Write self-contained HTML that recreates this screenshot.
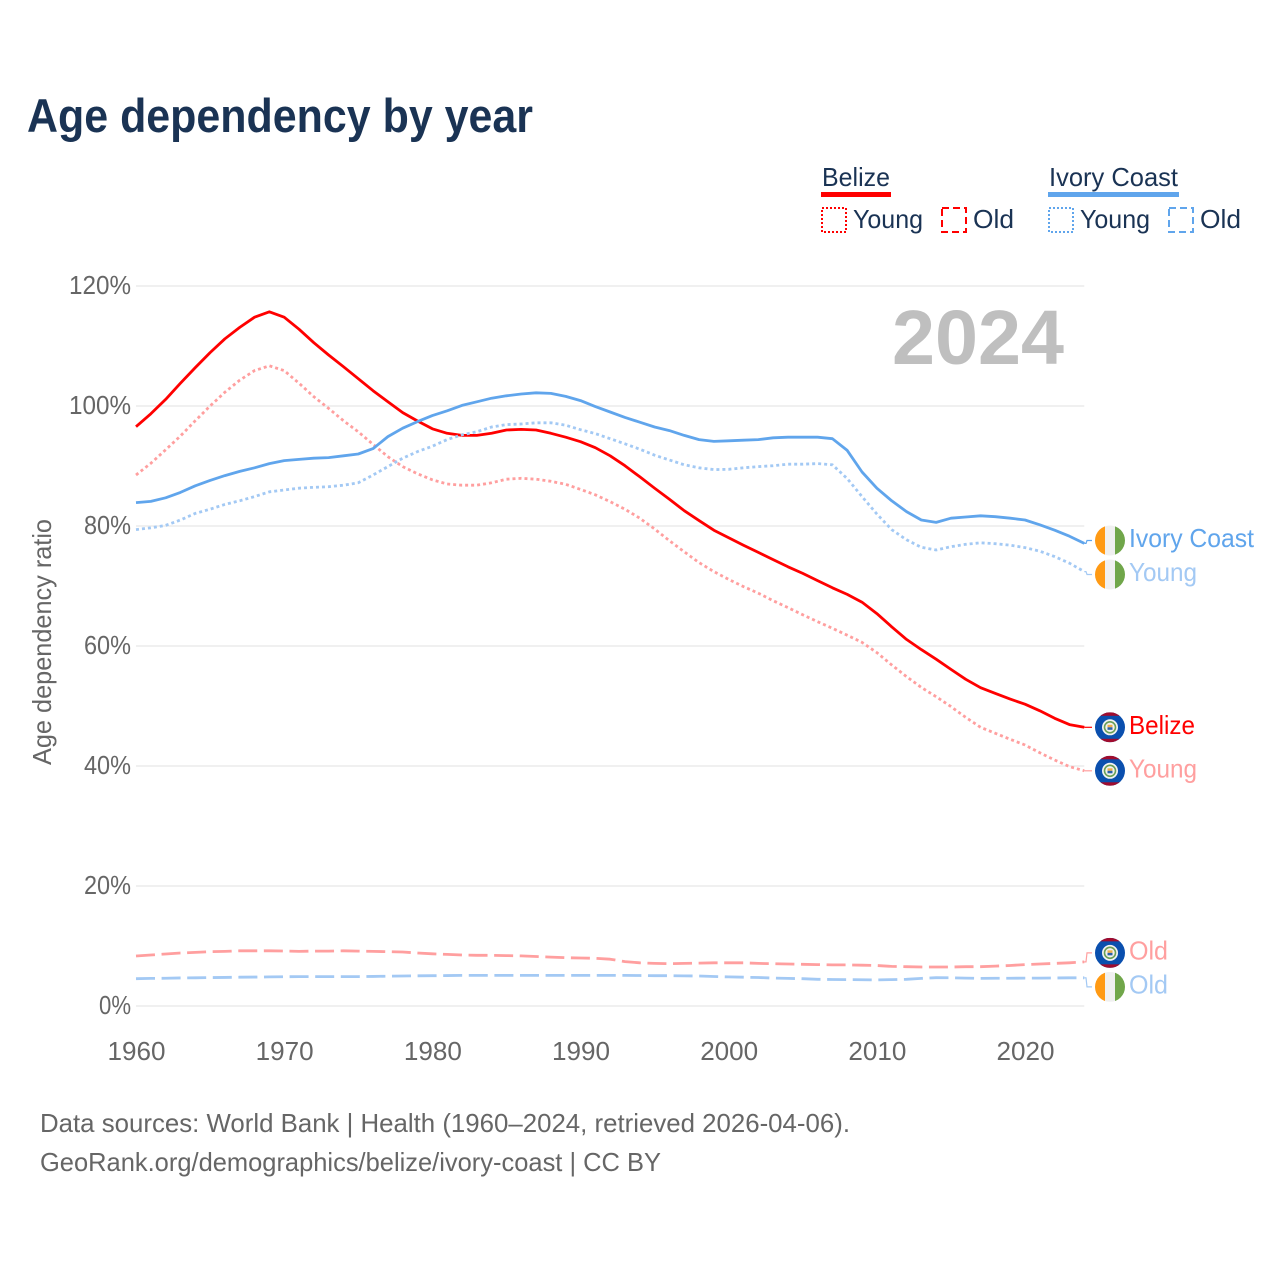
<!DOCTYPE html>
<html lang="en">
<head>
<meta charset="utf-8">
<title>Age dependency by year</title>
<style>
html,body{margin:0;padding:0;background:#fff;width:1280px;height:1280px;overflow:hidden}
svg{display:block;font-family:"Liberation Sans",sans-serif}
</style>
</head>
<body>
<svg id="chart" width="1280" height="1280" viewBox="0 0 1280 1280" xmlns="http://www.w3.org/2000/svg">
  <text x="27" y="132" font-size="47" font-weight="700" fill="#1a3354" textLength="506" lengthAdjust="spacingAndGlyphs">Age dependency by year</text>

  <g font-size="26" fill="#1a3354">
    <g>
      <text x="822" y="186" textLength="68" lengthAdjust="spacingAndGlyphs">Belize</text>
      <rect x="821" y="192" width="70" height="5" fill="#ff0000"/>
      <rect x="822" y="208" width="24" height="24" fill="none" stroke="#ff0000" stroke-width="2" stroke-dasharray="2 2"/>
      <text x="853" y="228" textLength="70" lengthAdjust="spacingAndGlyphs">Young</text>
      <rect x="942" y="208" width="24" height="24" fill="none" stroke="#ff0000" stroke-width="2" stroke-dasharray="7 4"/>
      <text x="973" y="228" textLength="41" lengthAdjust="spacingAndGlyphs">Old</text>
    </g>
    <g>
      <text x="1049" y="186" textLength="129" lengthAdjust="spacingAndGlyphs">Ivory Coast</text>
      <rect x="1048" y="192" width="131" height="5" fill="#60a5ec"/>
      <rect x="1049" y="208" width="24" height="24" fill="none" stroke="#60a5ec" stroke-width="2" stroke-dasharray="2 2"/>
      <text x="1080" y="228" textLength="70" lengthAdjust="spacingAndGlyphs">Young</text>
      <rect x="1169" y="208" width="24" height="24" fill="none" stroke="#60a5ec" stroke-width="2" stroke-dasharray="7 4"/>
      <text x="1200" y="228" textLength="41" lengthAdjust="spacingAndGlyphs">Old</text>
    </g>
  </g>

  <g id="grid"></g>
  <g id="yticks" font-size="26" fill="#666666" text-anchor="end"></g>
  <g id="xticks" font-size="26" fill="#666666" text-anchor="middle"></g>
  <text transform="translate(51 642) rotate(-90)" text-anchor="middle" font-size="26" fill="#666666" textLength="246" lengthAdjust="spacingAndGlyphs">Age dependency ratio</text>
  <text x="892" y="364" font-size="77" font-weight="700" fill="#bfbfbf" textLength="172" lengthAdjust="spacingAndGlyphs">2024</text>

  <g id="series"></g>
  <g id="endlabels"></g>

  <g font-size="26" fill="#666666">
    <text x="40" y="1132" textLength="810" lengthAdjust="spacingAndGlyphs">Data sources: World Bank | Health (1960–2024, retrieved 2026-04-06).</text>
    <text x="40" y="1171" textLength="621" lengthAdjust="spacingAndGlyphs">GeoRank.org/demographics/belize/ivory-coast | CC BY</text>
  </g>
</svg>
<script>
const firstYear = 1960;
const lastYear = 2024;
const yTickValues = [0, 20, 40, 60, 80, 100, 120];
const xTickValues = [1960, 1970, 1980, 1990, 2000, 2010, 2020];

const belizeTotal = [
  96.55,98.7,101.1,103.8,106.4,108.9,111.2,113.1,114.8,115.7,
  114.8,112.8,110.55,108.5,106.55,104.55,102.55,100.7,98.9,97.5,
  96.2,95.45,95.1,95.1,95.45,96,96.1,96,95.45,94.8,
  94.05,93.05,91.7,90.05,88.2,86.3,84.45,82.55,80.9,79.3,
  78.05,76.8,75.6,74.4,73.2,72.1,70.9,69.7,68.6,67.3,
  65.4,63.2,61.1,59.4,57.8,56.1,54.45,53.05,52.1,51.15,
  50.3,49.2,47.95,46.9,46.45];
const belizeYoung = [
  88.5,90.45,92.7,95,97.55,100,102.3,104.3,105.9,106.7,
  105.9,103.8,101.55,99.6,97.55,95.7,93.6,91.55,89.9,88.7,
  87.7,87,86.8,86.8,87.2,87.8,87.95,87.8,87.45,86.95,
  86.1,85.2,84.05,82.8,81.3,79.5,77.55,75.7,73.9,72.4,
  71.1,69.9,68.8,67.55,66.4,65.2,64.05,62.95,61.8,60.6,
  58.9,56.85,54.9,53.1,51.55,49.9,48.1,46.45,45.45,44.45,
  43.5,42.2,41,39.9,39.2];
const belizeOld = [
  8.33,8.5,8.67,8.83,8.94,9.05,9.1,9.2,9.2,9.2,
  9.17,9.1,9.15,9.15,9.2,9.15,9.1,9.05,9,8.83,
  8.7,8.6,8.5,8.45,8.45,8.4,8.35,8.25,8.15,8.05,
  8,7.95,7.8,7.4,7.2,7.1,7.05,7.1,7.15,7.2,
  7.2,7.2,7.1,7.05,7,6.95,6.9,6.85,6.85,6.8,
  6.75,6.6,6.55,6.5,6.5,6.5,6.55,6.55,6.65,6.75,
  6.9,7,7.1,7.2,7.35];
const ivoryTotal = [
  83.9,84.1,84.7,85.6,86.7,87.6,88.4,89.1,89.7,90.4,
  90.9,91.1,91.3,91.4,91.7,92,92.9,94.9,96.3,97.4,
  98.4,99.2,100.1,100.7,101.3,101.7,102,102.2,102.1,101.6,
  100.9,99.9,99,98.1,97.3,96.5,95.9,95.1,94.4,94.1,
  94.2,94.3,94.4,94.7,94.8,94.8,94.8,94.55,92.6,89,
  86.3,84.2,82.4,81,80.6,81.3,81.5,81.7,81.55,81.3,
  81,80.2,79.3,78.3,77.1];
const ivoryYoung = [
  79.4,79.7,80.1,81,82.1,82.8,83.6,84.2,84.9,85.7,
  86,86.3,86.45,86.55,86.8,87.2,88.5,89.9,91.3,92.4,
  93.3,94.4,95.2,95.7,96.5,96.9,97,97.2,97.2,96.8,
  96.05,95.4,94.55,93.7,92.8,91.8,91,90.2,89.7,89.4,
  89.45,89.7,89.9,90.05,90.3,90.3,90.4,90.2,87.9,84.9,
  82,79.4,77.7,76.45,76,76.55,76.95,77.2,77.05,76.8,
  76.4,75.8,74.9,73.8,72.4];
const ivoryOld = [
  4.55,4.6,4.62,4.68,4.7,4.74,4.76,4.8,4.82,4.85,
  4.88,4.9,4.9,4.9,4.9,4.9,4.93,4.97,5,5.03,
  5.05,5.07,5.1,5.1,5.1,5.1,5.1,5.1,5.1,5.1,
  5.1,5.1,5.1,5.1,5.08,5.05,5.05,5.02,5,4.92,
  4.85,4.8,4.75,4.65,4.6,4.55,4.45,4.42,4.4,4.38,
  4.35,4.4,4.45,4.6,4.72,4.7,4.65,4.6,4.62,4.63,
  4.65,4.65,4.67,4.7,4.7];

const SVG_NS = 'http://www.w3.org/2000/svg';
const xScale = year => 136 + (year - firstYear) * (1084.3 - 136) / (lastYear - firstYear);
const yScale = value => 1006 - value * 6;

function make(tag, parent, attrs) {
  const el = document.createElementNS(SVG_NS, tag);
  for (const key in attrs) el.setAttribute(key, attrs[key]);
  parent.appendChild(el);
  return el;
}

const gridGroup = document.getElementById('grid');
const yTickGroup = document.getElementById('yticks');
yTickValues.forEach(function (value) {
  const line = make('line', gridGroup, {x1: 136, x2: 1084.3, y1: yScale(value), y2: yScale(value), stroke: '#ececec', 'stroke-width': 1.6});
  
  
  const label = make('text', yTickGroup, {x: 131, y: yScale(value) + 8, textLength: String(value).length * 15 + 17, lengthAdjust: 'spacingAndGlyphs'});
  label.textContent = value + '%';
  
  
});

const xTickGroup = document.getElementById('xticks');
xTickValues.forEach(function (year) {
  const label = make('text', xTickGroup, {x: xScale(year) + 0.5, y: 1060, textLength: 58, lengthAdjust: 'spacingAndGlyphs'});
  label.textContent = year;
  
  
});

const lineStyles = {
  total: {dash: 'none'},
  young: {dash: '3 3'},
  old: {dash: '19 6.6'}
};
const seriesList = [
  {id: 'belize-old', values: belizeOld, color: '#ff9f9f', style: 'old', label: 'Old', flag: 'belize', width: 39},
  {id: 'belize-young', values: belizeYoung, color: '#ff9f9f', style: 'young', label: 'Young', flag: 'belize', width: 68},
  {id: 'belize-total', values: belizeTotal, color: '#ff0000', style: 'total', label: 'Belize', flag: 'belize', width: 66},
  {id: 'ivory-coast-old', values: ivoryOld, color: '#a3c9f4', style: 'old', label: 'Old', flag: 'ivory', width: 39},
  {id: 'ivory-coast-young', values: ivoryYoung, color: '#a3c9f4', style: 'young', label: 'Young', flag: 'ivory', width: 68},
  {id: 'ivory-coast-total', values: ivoryTotal, color: '#60a5ec', style: 'total', label: 'Ivory Coast', flag: 'ivory', width: 125}
];

const seriesGroup = document.getElementById('series');
seriesList.forEach(function (s) {
  const d = s.values.map(function (v, i) {
    return (i ? 'L' : 'M') + xScale(firstYear + i).toFixed(2) + ' ' + yScale(v).toFixed(2);
  }).join(' ');
  const path = make('path', seriesGroup, {d: d, fill: 'none', stroke: s.color, 'stroke-width': 2.8, 'stroke-linejoin': 'round', 'stroke-dasharray': lineStyles[s.style].dash});
  
  
});

/* End labels: start at each series' final value, then push apart until they no longer overlap. */
const labelGap = 34;
const placed = seriesList.map(function (s) {
  const endY = yScale(s.values[s.values.length - 1]);
  return {s: s, endY: endY, y: endY};
}).sort(function (a, b) { return a.endY - b.endY; });
for (let pass = 0; pass < 40; pass++) {
  for (let i = 1; i < placed.length; i++) {
    const overlap = labelGap - (placed[i].y - placed[i - 1].y);
    if (overlap > 0) {
      placed[i - 1].y -= overlap / 2;
      placed[i].y += overlap / 2;
    }
  }
}

function drawBelizeFlag(g, cy) {
  make('rect', g, {x: 1095, y: cy - 15, width: 30, height: 30, fill: '#0a4fae'});
  make('rect', g, {x: 1095, y: cy - 15, width: 30, height: 3.5, fill: '#a00c2e'});
  make('rect', g, {x: 1095, y: cy + 11.5, width: 30, height: 3.5, fill: '#a00c2e'});
  make('circle', g, {cx: 1110, cy: cy, r: 8, fill: '#f2f2f2'});
  make('circle', g, {cx: 1110, cy: cy, r: 5.5, fill: 'none', stroke: '#6a9f55', 'stroke-width': 1.6});
  make('rect', g, {x: 1107.5, y: cy - 2.5, width: 5, height: 2.5, fill: '#f0b04a'});
  make('rect', g, {x: 1107.5, y: cy, width: 5, height: 2.5, fill: '#2a62a8'});
}
function drawIvoryFlag(g, cy) {
  make('rect', g, {x: 1095, y: cy - 15, width: 10, height: 30, fill: '#ff9a14'});
  make('rect', g, {x: 1105, y: cy - 15, width: 10, height: 30, fill: '#f0f0f0'});
  make('rect', g, {x: 1115, y: cy - 15, width: 10, height: 30, fill: '#70a64a'});
}

const labelGroup = document.getElementById('endlabels');
placed.forEach(function (p, index) {
  const s = p.s;
  const labelColor = s.color;
  const leader = make('path', labelGroup, {
    d: 'M1084.3 ' + p.endY.toFixed(2) + ' L1086 ' + p.endY.toFixed(2) + ' L1087 ' + p.y.toFixed(2) + ' L1092 ' + p.y.toFixed(2),
    fill: 'none', stroke: labelColor, 'stroke-width': 1.2
  });
  
  

  const clip = make('clipPath', labelGroup, {id: 'flag-clip-' + index});
  make('circle', clip, {cx: 1110, cy: p.y, r: 15});
  const flag = make('g', labelGroup, {'clip-path': 'url(#flag-clip-' + index + ')'});
  
  
  if (s.flag === 'belize') drawBelizeFlag(flag, p.y);
  else drawIvoryFlag(flag, p.y);

  const text = make('text', labelGroup, {x: 1129, y: p.y + 6.5, 'font-size': 26, fill: labelColor, textLength: s.width, lengthAdjust: 'spacingAndGlyphs'});
  text.textContent = s.label;
  
  
});
</script>
</body>
</html>
